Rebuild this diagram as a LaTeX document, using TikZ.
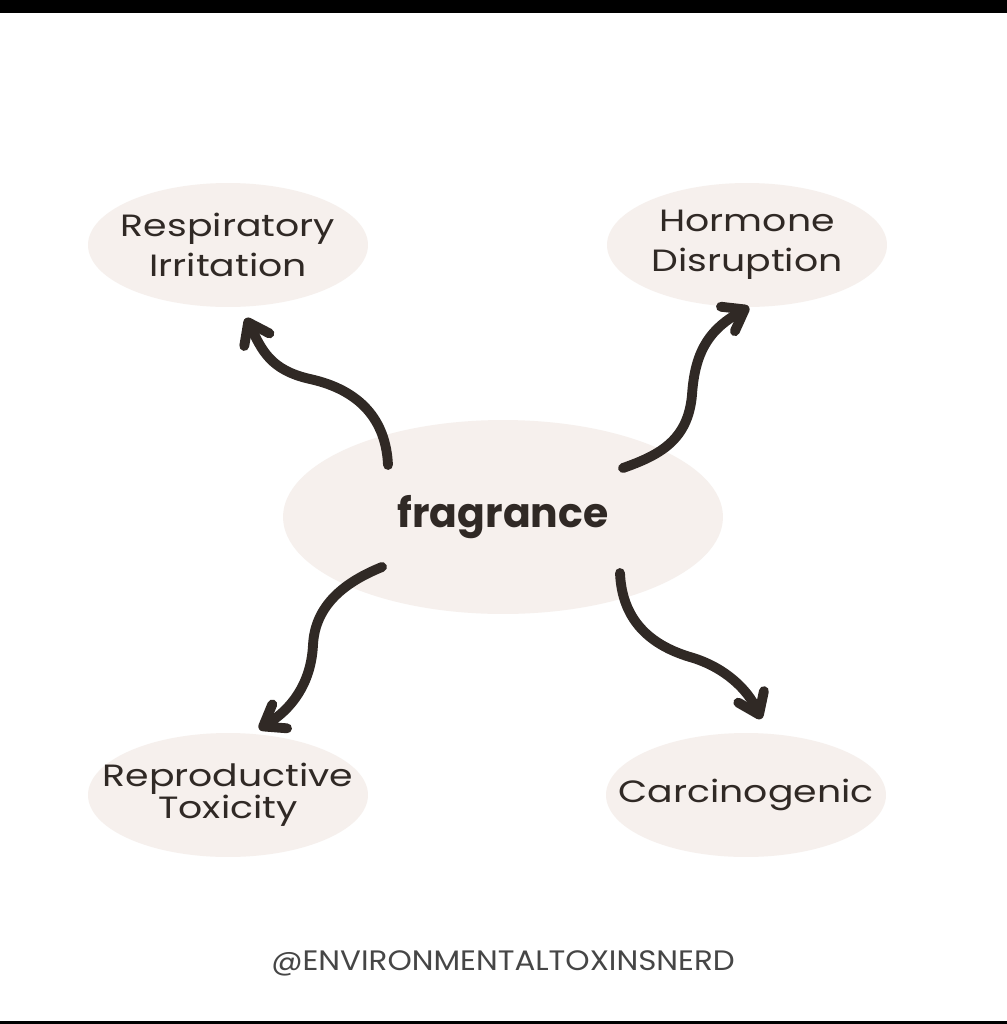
\documentclass[tikz,border=0pt]{standalone}
\usepackage{fontspec}
\setmainfont{Poppins}
\newfontfamily\labelfont{Poppins}[FakeStretch=1.23]
\newfontfamily\tagfont{Poppins}[FakeStretch=1.1]
\usetikzlibrary{shapes.geometric,arrows.meta}
\definecolor{blush}{RGB}{246,240,237}
\definecolor{ink}{RGB}{48,41,37}
\definecolor{tagink}{RGB}{70,70,70}
\begin{document}
\begin{tikzpicture}[x=0.02cm, y=-0.02cm, >={Straight Barb[length=11pt,width=16pt,round]},
    every node/.style={ellipse, fill=blush, inner sep=0pt, align=center, text=ink},
    effect/.style={inner sep=-24pt, minimum width=5.6cm, minimum height=2.48cm, font=\labelfont\fontsize{17.5}{22.8}\selectfont},
    swirl/.style={->, draw=ink, line width=5.6pt, line cap=round}]
    \useasboundingbox (0,0) rectangle (1007,1024);
    \fill[white] (0,0) rectangle (1007,1024);
    \fill[black] (0,0) rectangle (1007,13);
    \fill[black] (0,1021) rectangle (1007,1024);

    % Nodes
    \node[minimum width=8.8cm, minimum height=3.88cm, font=\fontsize{23.3}{28}\selectfont\bfseries] at (503,517) (frag) {fragrance};
    \node[effect] at (228,245) (resp) {Respiratory\\Irritation};
    \node[effect] at (747,245) (horm) {Hormone\\Disruption};
    \node[effect] at (228,795) (repro) {Reproductive\\[-4.6pt]Toxicity};
    \node[effect] at (746,795) (carc) {Carcinogenic};
    \node[rectangle, fill=none, text=tagink, font=\tagfont\fontsize{16}{19}\selectfont] at (503,963) (tag) {@ENVIRONMENTALTOXINSNERD};

    % Arrow ends
    \coordinate (resp-out) at (388,465);
    \coordinate (resp-in) at (246,318);
    \coordinate (horm-out) at (623,468);
    \coordinate (horm-in) at (749,307);
    \coordinate (repro-out) at (382,567);
    \coordinate (repro-in) at (259,729);
    \coordinate (carc-out) at (620,573);
    \coordinate (carc-in) at (761,719);

    % Edges
    \draw[swirl] (resp-out) .. controls (386,420) and (360,390) .. (310,379) .. controls (270,370) and (262,350) .. (resp-in);
    \draw[swirl] (horm-out) .. controls (660,455) and (688,440) .. (692,395) .. controls (695,348) and (712,328) .. (horm-in);
    \draw[swirl] (repro-out) .. controls (345,582) and (315,605) .. (313,645) .. controls (311,685) and (290,710) .. (repro-in);
    \draw[swirl] (carc-out) .. controls (622,620) and (650,645) .. (690,657) .. controls (725,667) and (748,690) .. (carc-in);
\end{tikzpicture}
\end{document}
